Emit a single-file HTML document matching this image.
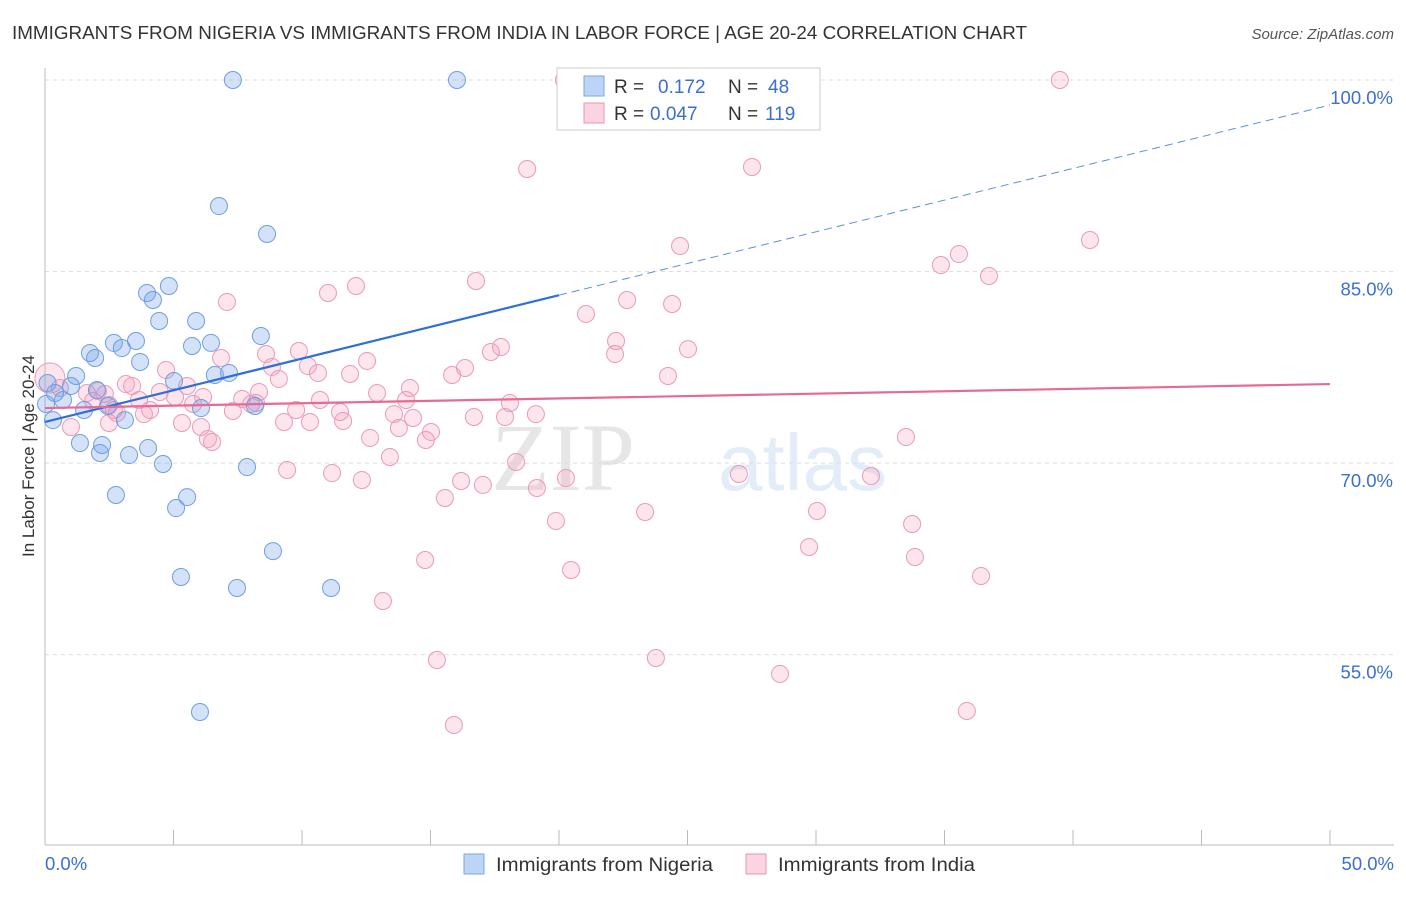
<!DOCTYPE html>
<html><head><meta charset="utf-8"><style>
body{margin:0;background:#fff;font-family:"Liberation Sans",sans-serif;}
svg text{font-family:"Liberation Sans",sans-serif;}
</style></head><body>
<svg id="chart" width="1406" height="892" xmlns="http://www.w3.org/2000/svg">
<text x="12" y="39" font-size="18.5" fill="#333" textLength="1015" lengthAdjust="spacingAndGlyphs">IMMIGRANTS FROM NIGERIA VS IMMIGRANTS FROM INDIA IN LABOR FORCE | AGE 20-24 CORRELATION CHART</text>
<text x="1394" y="39" font-size="15" fill="#555" text-anchor="end" font-style="italic">Source: ZipAtlas.com</text>
<text transform="translate(34,456) rotate(-90)" font-size="17" fill="#333" text-anchor="middle">In Labor Force | Age 20-24</text>
<g opacity="0.18">
<text x="635" y="490" font-size="96" fill="#777" text-anchor="end" font-family="Liberation Serif" style="font-family:'Liberation Serif',serif">ZIP</text>
<text x="718" y="490" font-size="80" fill="#6b9be0">atlas</text>
</g>
<g id="grid"></g><g id="axes"></g><g id="marks"></g><g id="trends"></g>
<g>
<rect x="557" y="68" width="263" height="62" fill="#fff" stroke="#ccc"/>
<rect x="584" y="76" width="20" height="20" fill="rgba(110,160,235,0.45)" stroke="#7aa7e0"/>
<text x="614" y="93" font-size="19" fill="#333">R = </text><text x="658" y="93" font-size="19" fill="#3a6fd0">0.172</text>
<text x="728" y="93" font-size="19" fill="#333">N = </text><text x="768" y="93" font-size="19" fill="#3a6fd0">48</text>
<rect x="584" y="103" width="20" height="20" fill="rgba(245,160,190,0.45)" stroke="#e895b3"/>
<text x="614" y="120" font-size="19" fill="#333">R = </text><text x="650" y="120" font-size="19" fill="#3a6fd0">0.047</text>
<text x="728" y="120" font-size="19" fill="#333">N = </text><text x="765" y="120" font-size="19" fill="#3a6fd0">119</text>
</g>
<g>
<rect x="464" y="854" width="20" height="20" fill="rgba(110,160,235,0.45)" stroke="#7aa7e0"/>
<text x="496" y="871" font-size="19" fill="#333" textLength="217" lengthAdjust="spacingAndGlyphs">Immigrants from Nigeria</text>
<rect x="746" y="854" width="20" height="20" fill="rgba(245,160,190,0.45)" stroke="#e895b3"/>
<text x="778" y="871" font-size="19" fill="#333" textLength="197" lengthAdjust="spacingAndGlyphs">Immigrants from India</text>
</g>
</svg>
<script>
const yTicks=[100,85,70,55];
const yTickLabels=["100.0%","85.0%","70.0%","55.0%"];
const xTicks=[0,5,10,15,20,25,30,35,40,45,50];
const nigeriaX=[7.31,16.03,6.77,8.64,4.82,3.97,4.20,4.44,5.88,8.40,3.54,2.68,2.99,1.75,1.95,5.72,6.46,3.70,1.21,6.61,7.16,5.02,0.1,1.01,2.02,0.39,0.70,1.52,2.45,0.04,6.07,8.17,0.31,3.11,1.36,2.22,4.01,2.14,3.27,4.59,7.86,2.76,5.53,5.10,8.87,5.29,7.47,11.13,6.03];
const nigeriaY=[100,100,90.13,87.94,83.87,83.32,82.77,81.13,81.13,79.95,79.56,79.41,79.01,78.62,78.23,79.17,79.41,77.92,76.82,76.90,77.06,76.43,76.27,76.04,75.72,75.49,74.94,74.16,74.47,74.63,74.31,74.47,73.37,73.37,71.57,71.42,71.18,70.79,70.63,69.93,69.69,67.50,67.34,66.48,63.11,61.08,60.22,60.22,50.51];
const indiaX=[20.19,29.38,39.49,18.76,27.51,24.71,40.66,35.56,34.86,36.73,16.77,12.10,11.01,7.08,22.65,24.40,21.05,22.22,22.18,25.02,17.74,17.35,9.88,8.60,6.85,12.53,10.23,8.83,10.62,4.71,11.87,16.34,15.84,24.24,9.10,3.15,3.39,5.53,14.20,12.92,2.06,2.33,8.33,1.63,4.47,5.06,6.15,14.05,7.67,10.70,18.09,0.19,0.58,1.87,3.66,2.49,5.76,8.21,2.68,4.09,2.80,7.31,9.77,11.48,13.58,19.10,16.69,17.90,14.32,8.02,3.85,9.30,10.31,11.60,2.49,5.33,6.07,13.77,15.02,1.01,12.65,14.82,6.34,6.50,33.50,13.42,18.33,9.42,11.17,20.27,27.00,32.14,12.33,16.19,17.04,19.14,15.56,23.35,30.04,19.88,33.74,29.73,33.85,14.79,20.47,36.42,13.15,15.25,23.77,28.60,35.87,15.91];
const indiaY=[100,100,100,93.03,93.19,87.00,87.47,86.37,85.51,84.65,84.26,83.87,83.32,82.62,82.77,82.46,81.68,79.56,78.54,78.93,79.09,78.70,78.78,78.54,78.23,78.00,77.60,77.53,77.06,77.29,76.98,77.45,76.90,76.82,76.59,76.19,76.04,76.04,75.88,75.49,75.65,75.41,75.57,75.49,75.57,75.18,75.18,74.94,75.02,74.94,74.71,76.66,75.88,74.86,74.94,74.55,74.63,74.71,74.16,74.16,73.92,74.08,74.16,74.00,73.84,73.84,73.61,73.61,73.53,74.63,73.84,73.22,73.22,73.30,73.14,73.14,72.83,72.75,72.44,72.83,71.97,71.81,71.89,71.65,72.04,70.48,70.09,69.46,69.22,68.83,69.15,68.99,68.68,68.60,68.29,68.05,67.27,66.17,66.25,65.47,65.23,63.43,62.65,62.41,61.63,61.16,59.20,54.58,54.74,53.49,50.59,49.49];
const nigeriaTrend=[73.22,98.04];
const indiaTrend=[74.31,76.19];
const NS="http://www.w3.org/2000/svg";
const X=v=>45+v/50*1285;
const Y=v=>80+(100-v)*12.77;
function mk(t,a,p){const e=document.createElementNS(NS,t);for(const k in a)e.setAttribute(k,a[k]);p.appendChild(e);return e;}
const grid=document.getElementById('grid'),axes=document.getElementById('axes'),marks=document.getElementById('marks'),trends=document.getElementById('trends');
yTicks.forEach((t,i)=>{
 const l=mk('line',{x1:45,x2:1394,y1:Y(t),y2:Y(t),stroke:'#ddd','stroke-dasharray':'4,4'},grid);
 
 
 const tx=mk('text',{x:1393,y:Y(t)+24,'font-size':18.5,fill:'#3a6fd0','text-anchor':'end'},axes);
 tx.textContent=yTickLabels[i];
 
 
});
const ya=mk('line',{x1:45,x2:45,y1:68,y2:845,stroke:'#bbb'},axes);


const xa=mk('line',{x1:45,x2:1394,y1:845,y2:845,stroke:'#bbb'},axes);


xTicks.forEach(t=>{
 const l=mk('line',{x1:X(t),x2:X(t),y1:830,y2:845,stroke:'#bbb'},axes);
 
 
});
[[0,"0.0%",'start',45],[50,"50.0%",'end',1394]].forEach(a=>{
 const tx=mk('text',{x:a[3],y:870,'font-size':18.5,fill:'#3a6fd0','text-anchor':a[2]},axes);
 tx.textContent=a[1];
 
 
});
indiaX.forEach((v,i)=>{
 const c=mk('circle',{cx:X(v),cy:Y(indiaY[i]),r:(i==51?15:8.5),fill:'rgba(245,160,190,0.28)',stroke:'#e99ab8','stroke-width':1},marks);
 
 
});
nigeriaX.forEach((v,i)=>{
 const c=mk('circle',{cx:X(v),cy:Y(nigeriaY[i]),r:8.5,fill:'rgba(110,160,235,0.3)',stroke:'#6f9fe0','stroke-width':1},marks);
 
 
});
const by=x=>nigeriaTrend[0]+(nigeriaTrend[1]-nigeriaTrend[0])*x/50;
const b1=mk('line',{x1:X(0),y1:Y(by(0)),x2:X(20),y2:Y(by(20)),stroke:'#2f6fd6','stroke-width':2.2},trends);


const b2=mk('line',{x1:X(20),y1:Y(by(20)),x2:X(50),y2:Y(by(50)),stroke:'#5b8fe0','stroke-width':1,'stroke-dasharray':'8,5'},trends);


const p1=mk('line',{x1:X(0),y1:Y(indiaTrend[0]),x2:X(50),y2:Y(indiaTrend[1]),stroke:'#e66a98','stroke-width':2.2},trends);


</script>
</body></html>
